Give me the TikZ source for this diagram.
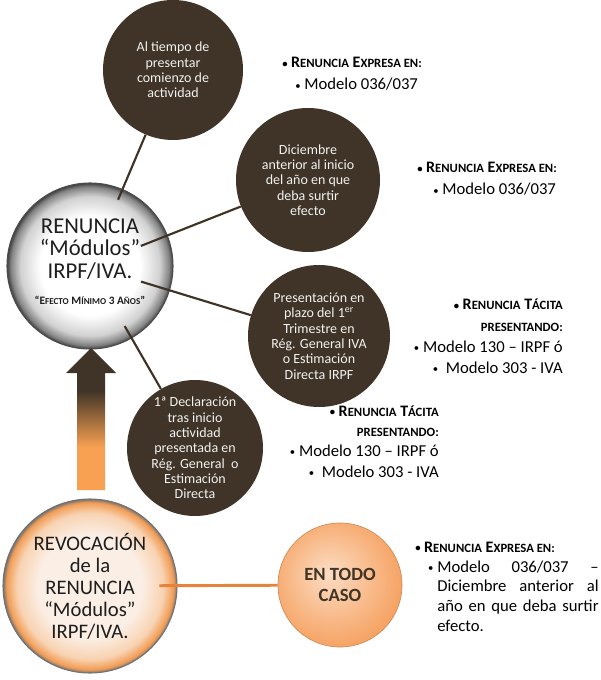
\documentclass[tikz,border=0pt]{standalone}
\usepackage{fontspec}
\setmainfont{Carlito}
\definecolor{brdark}{HTML}{3F3427}
\definecolor{brline}{HTML}{3F3326}
\definecolor{orline}{HTML}{E5833A}
\definecolor{orarrow}{HTML}{F9A152}
\definecolor{txtlight}{HTML}{F2F2F2}
\definecolor{txtdark}{HTML}{1E1E1E}
\definecolor{revin}{HTML}{FBEEE4}
\definecolor{revmid}{HTML}{F8D3B2}
\definecolor{revring}{HTML}{F29C55}
\definecolor{casoin}{HTML}{FCDDC4}
\definecolor{casoout}{HTML}{F6A465}
\pgfdeclareradialshading{renshade}{\pgfpoint{0bp}{0bp}}{color(0bp)=(white); color(15bp)=(white); color(21bp)=(black!18); color(23.8bp)=(black!48); color(25bp)=(black!75); color(50bp)=(black!75)}
\pgfdeclareradialshading{revshade}{\pgfpoint{0bp}{0bp}}{color(0bp)=(revin); color(15bp)=(revin); color(21bp)=(revmid); color(24bp)=(revring); color(25bp)=(black!55); color(50bp)=(black!55)}
\pgfdeclareradialshading{casoshade}{\pgfpoint{-5bp}{5bp}}{color(0bp)=(casoin); color(27bp)=(casoout); color(50bp)=(casoout)}
\pgfdeclareverticalshading{arrowshade}{100bp}{color(0bp)=(orarrow); color(40bp)=(orarrow); color(60bp)=(brdark); color(100bp)=(brdark)}
\newcommand\smc[1]{{\fontsize{9.5}{10}\selectfont #1}}
\newcommand\tinysc[1]{{\fontsize{6.8}{7}\selectfont #1}}
\newcommand\bul{\raisebox{0.12ex}{\fontsize{8}{8}\selectfont•}}

\begin{document}
\begin{tikzpicture}[x=0.75pt, y=-0.75pt,
  darkc/.style={circle, fill=brdark, text=txtlight, align=center, inner sep=0pt,
    font=\fontsize{10.5}{11.5}\selectfont},
  conn/.style={brline, line width=1.6pt},
  hdr/.style={anchor=base west, inner sep=0pt, font=\fontsize{12}{13}\selectfont\bfseries},
  hdrr/.style={hdr, anchor=base east},
  item/.style={anchor=base west, inner sep=0pt, font=\fontsize{12.5}{14}\selectfont},
  itemr/.style={item, anchor=base east}]
  \useasboundingbox (0,0) rectangle (600,680);

  % main circles
  \node[circle, shading=renshade, draw=black!70, line width=0.8pt, minimum size=124.5pt] (ren) at (90,266) {};
  \node[align=center, text=txtdark, font=\fontsize{17}{17}\selectfont] (rentxt) at (90,249) {RENUNCIA\\“Módulos”\\IRPF/IVA.};
  \node[text=txtdark, font=\fontsize{8.5}{9}\selectfont\bfseries] (efecto) at (90,300) {“E\tinysc{FECTO} M\tinysc{ÍNIMO} 3 A\tinysc{ÑOS}”};

  \node[darkc, minimum size=105pt] (tiempo) at (173,70) {Al tiempo de\\presentar\\comienzo de\\actividad};
  \node[darkc, minimum size=108pt] (dic) at (308,180) {Diciembre\\anterior al inicio\\del año en que\\deba surtir\\efecto};
  \node[darkc, minimum size=106.5pt] (pres) at (319,336) {Presentación en\\plazo del 1\textsuperscript{er}\\Trimestre en\\Rég. General IVA\\o Estimación\\Directa IRPF};
  \node[darkc, minimum size=102pt] (decl) at (195,448) {1ª Declaración\\tras inicio\\actividad\\presentada en\\Rég. General\ \ o\\Estimación\\Directa};

  \foreach \t/\s in {tiempo/54pt, dic/41pt, pres/40pt, decl/52pt}
    \draw[conn, shorten <=\s] (ren.center) -- (\t);

  % arrow
  \shade[shading=arrowshade] (77,490) -- (77,373) -- (66,373) -- (91,348) -- (116,373) -- (105,373) -- (105,490) -- cycle;

  \node[circle, shading=revshade, draw=black!55, line width=0.8pt, minimum size=130.5pt, align=center,
    text=txtdark, font=\fontsize{15.5}{16.5}\selectfont] (rev) at (90,586) {REVOCACIÓN\\de la\\RENUNCIA\\“Módulos”\\IRPF/IVA.};
  \node[circle, shading=casoshade, draw=casoout!85!black, line width=0.5pt, minimum size=93pt, align=center,
    text=brdark, font=\fontsize{14}{16}\selectfont\bfseries] (caso) at (340,585) {EN TODO\\CASO};
  \draw[orline, line width=2.2pt, shorten <=52pt] (rev.center) -- (caso);

  % texts
  \node[hdr] (h1) at (282,68) {\bul\ R\smc{ENUNCIA} E\smc{XPRESA EN:}};
  \node[item] (m1) at (295,90) {\bul\ Modelo 036/037};
  \node[hdr] (h2) at (417,173) {\bul\ R\smc{ENUNCIA} E\smc{XPRESA EN:}};
  \node[item] (m2) at (433,195) {\bul\ Modelo 036/037};

  \node[hdrr] (h3) at (563,310) {\bul\ R\smc{ENUNCIA} T\smc{ÁCITA}};
  \node[hdrr] (p3) at (563,331) {\smc{PRESENTANDO:}};
  \node[itemr] (a3) at (563,352) {\bul\ Modelo 130 – IRPF ó};
  \node[itemr] (b3) at (563,373) {\bul\ \ Modelo 303 - IVA};

  \node[hdrr] (h4) at (439,416) {\bul\ R\smc{ENUNCIA} T\smc{ÁCITA}};
  \node[hdrr] (p4) at (439,436) {\smc{PRESENTANDO:}};
  \node[itemr] (a4) at (439,456) {\bul\ Modelo 130 – IRPF ó};
  \node[itemr] (b4) at (439,477) {\bul\ \ Modelo 303 - IVA};

  \node[hdr] (h5) at (415,552) {\bul\ R\smc{ENUNCIA} E\smc{XPRESA EN:}};
  \node[item] (l5a) at (437,572) {\llap{\bul\ }\makebox[121pt][s]{Modelo 036/037 –}};
  \node[item] (l5b) at (437,591) {\makebox[121pt][s]{Diciembre anterior al}};
  \node[item] (l5c) at (437,611) {\makebox[121pt][s]{año en que deba surtir}};
  \node[item] (l5d) at (437,631) {efecto.};
\end{tikzpicture}
\end{document}
